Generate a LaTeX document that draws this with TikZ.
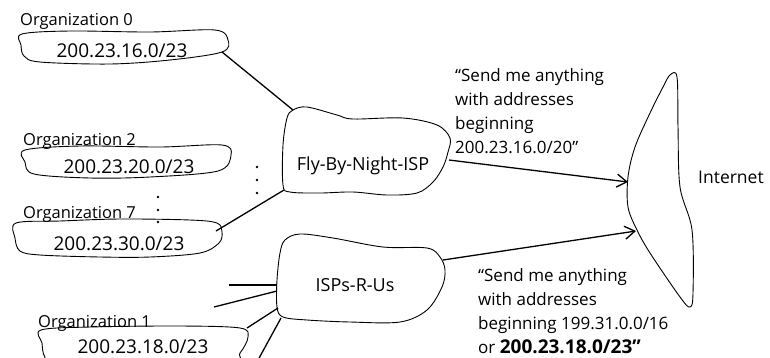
\documentclass[tikz,border=0pt]{standalone}
\usepackage{fontspec}
\setmainfont{Open Sans}
\usetikzlibrary{arrows.meta}

\tikzset{
  blob/.style={line width=0.9pt, tension=0.55},
  lbl/.style={anchor=base west, inner sep=0pt, font=\fontsize{16.5}{18}\selectfont},
  ipaddr/.style={anchor=base, inner sep=0pt, font=\fontsize{19}{22}\selectfont},
  isp/.style={anchor=base, inner sep=0pt, font=\fontsize{18}{20}\selectfont},
  say/.style={anchor=base west, inner sep=0pt, align=left, font=\fontsize{17}{24}\selectfont},
  link/.style={line width=1.3pt},
  adv/.style={line width=1.3pt, -{Straight Barb[length=10pt,width=13pt]}}
}

\begin{document}
\begin{tikzpicture}[x=1pt,y=-1pt]
\useasboundingbox (0,0) rectangle (770,357);
\clip (0,0) rectangle (770,357);

\node[lbl] (lbl0) at (20,25) {Organization 0};
\node[ipaddr] (org0) at (122,57) {200.23.16.0/23};
\draw[blob] plot[smooth cycle] coordinates {(22,34) (70,31) (150,32) (215,30) (228,40) (222,52) (170,60) (110,64) (40,62) (24,56) (21,45)};

\node[lbl] (lbl2) at (23,145) {Organization 2};
\node[ipaddr] (org2) at (129,173) {200.23.20.0/23};
\draw[blob] plot[smooth cycle] coordinates {(25,150) (80,146) (160,147) (222,145) (231,155) (218,171) (150,177) (90,178) (34,174) (25,162)};

\node[lbl] (lbl7) at (23,218) {Organization 7};
\node[ipaddr] (org7) at (119,250) {200.23.30.0/23};
\draw[blob] plot[smooth cycle] coordinates {(16,223) (60,221) (120,219) (190,220) (217,223) (222,232) (219,243) (200,253) (150,257) (100,257) (40,255) (20,251) (15,238)};

\node[lbl] (lbl1) at (38,327) {Organization 1};
\node[ipaddr] (org1) at (143,353) {200.23.18.0/23};
\draw[blob] plot[smooth cycle] coordinates {(41,330) (90,327) (180,326) (240,328) (248,337) (240,353) (225,366) (60,366) (45,357) (42,343)};

\node[isp] (fbn) at (363,170) {Fly-By-Night-ISP};
\draw[blob] plot[smooth cycle] coordinates {(293,110) (307,107) (337,115) (353,119) (403,118) (437,125) (450,138) (448,152) (443,167) (433,182) (417,193) (387,195) (353,192) (320,193) (290,192) (283,185) (283,145) (287,118)};

\node[isp] (isprus) at (355,291) {ISPs-R-Us};
\draw[blob] plot[smooth cycle] coordinates {(285,240) (300,234) (333,238) (383,247) (427,248) (440,257) (445,270) (442,287) (427,310) (400,322) (350,322) (307,320) (283,317) (277,307) (277,280) (280,253)};

\node[lbl, font=\fontsize{17.5}{20}\selectfont] (inet) at (698,183) {Internet};
\draw[blob] plot[smooth cycle] coordinates {(670,75) (677,77) (678,127) (680,187) (692,230) (693,293) (690,307) (680,297) (650,253) (637,230) (628,207) (628,177) (635,147) (650,113) (663,87)};

\foreach \y in {197,210,222} \fill (158,\y) circle (1.4);
\foreach \y in {167,180,193} \fill (257,\y) circle (1.4);

\coordinate (org0e) at (222,52);
\coordinate (fbnnw) at (293,110);
\coordinate (org7e) at (216,231);
\coordinate (fbnsw) at (284,190);
\coordinate (fbne) at (449,160);
\coordinate (ineta) at (628,182);
\coordinate (isprue) at (443,260);
\coordinate (inetb) at (636,231);
\draw[link] (org0e) -- (fbnnw);
\draw[link] (org7e) -- (fbnsw);
\draw[adv] (fbne) -- (ineta);
\draw[adv] (isprue) -- (inetb);

\coordinate (ispw1) at (277,285);
\coordinate (ispw2) at (277,291);
\coordinate (ispw3) at (278,308);
\coordinate (ispw4) at (281,318);
\coordinate (cusa) at (229,285);
\coordinate (cusb) at (214,307);
\coordinate (org1e) at (247,328);
\coordinate (cusd) at (258,360);
\draw[link, line width=2pt] (cusa) -- (ispw1);
\draw[link] (cusb) -- (ispw2);
\draw[link] (org1e) -- (ispw3);
\draw[link] (cusd) -- (ispw4);

\node[say] (say1) at (455,153) {“Send me anything\\with addresses\\beginning\\200.23.16.0/20”};
\node[say] (say2) at (478,353) {“Send me anything\\with addresses\\beginning 199.31.0.0/16\\or {\fontsize{19}{24}\selectfont\bfseries 200.23.18.0/23”}};
\end{tikzpicture}
\end{document}
